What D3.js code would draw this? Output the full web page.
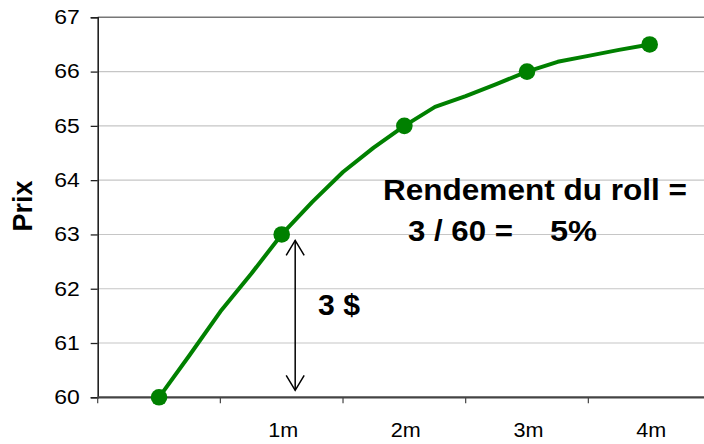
<!DOCTYPE html>
<html>
<head>
<meta charset="utf-8">
<script src="https://cdn.jsdelivr.net/npm/d3@7/dist/d3.min.js"></script>
<style>
  html, body { margin: 0; padding: 0; background: #fff; }
  svg { display: block; }
  text { font-family: "Liberation Sans", Arial, Helvetica, sans-serif; }
</style>
</head>
<body>
<div id="chart"></div>
<script>
// Maturity categories (the first one, spot, has no label)
const categories = ["", "1m", "2m", "3m", "4m"];
// Futures price at each monthly maturity (marked points)
const monthlyPrices = [60, 63, 65, 66, 66.5];
// Weekly prices along the curve (4 steps per month)
const weeklyPrices = [60, 60.78, 61.58, 62.27, 63, 63.6, 64.15, 64.6, 65,
                      65.35, 65.55, 65.77, 66, 66.18, 66.29, 66.4, 66.5];
const yTicks = [60, 61, 62, 63, 64, 65, 66, 67];
const yTitle = "Prix";
const rollLine1 = "Rendement du roll =";
const rollLine2a = "3 / 60 =";
const rollLine2b = "5%";
const spreadLabel = "3 $";

const W = 704, H = 444;
const plot = { left: 97.7, right: 711, top: 17.3, bottom: 397.3 };

const svg = d3.select("#chart").append("svg")
  .attr("width", W).attr("height", H);

const xBand = d3.scaleBand().domain(categories)
  .range([plot.left, plot.right]).paddingInner(0).paddingOuter(0);
// continuous month position -> pixel, month 0 centred in the first band
const xMonth = d3.scaleLinear()
  .domain([-0.5, categories.length - 0.5])
  .range([plot.left, plot.right]);
const y = d3.scaleLinear().domain([60, 67]).range([plot.bottom, plot.top]);

// horizontal gridlines
svg.append("g").selectAll("line")
  .data(yTicks.filter(v => v > 60))
  .join("line")
  .attr("x1", plot.left).attr("x2", plot.right)
  .attr("y1", d => y(d)).attr("y2", d => y(d))
  .attr("stroke", d => d === 67 ? "#777" : "#c6c6c6")
  .attr("stroke-width", d => d === 67 ? 1.6 : 1.1);

// y axis
const yAxis = svg.append("g")
  .attr("transform", `translate(${plot.left},0)`)
  .call(d3.axisLeft(y).tickValues(yTicks).tickSize(7).tickPadding(11)
    .tickFormat(d3.format("d")));
yAxis.select(".domain").attr("stroke", "#222").attr("stroke-width", 1.6);
yAxis.selectAll(".tick line").attr("stroke", "#222").attr("stroke-width", 1.3);
yAxis.selectAll(".tick text")
  .attr("font-size", 20).attr("fill", "#000")
  .attr("font-family", "'Liberation Sans', Arial, sans-serif")
  .attr("textLength", 25.5).attr("lengthAdjust", "spacingAndGlyphs");

// x axis line and tick marks between categories
const xAxis = svg.append("g");
xAxis.append("line")
  .attr("x1", plot.left).attr("x2", plot.right)
  .attr("y1", y(60)).attr("y2", y(60))
  .attr("stroke", "#444").attr("stroke-width", 2.2);
const boundaries = categories.map(c => xBand(c)).concat([xBand(categories[categories.length - 1]) + xBand.bandwidth()]);
xAxis.selectAll("line.tk").data(boundaries).join("line")
  .attr("class", "tk")
  .attr("x1", d => d).attr("x2", d => d)
  .attr("y1", y(60)).attr("y2", y(60) + 6)
  .attr("stroke", "#444").attr("stroke-width", 1.2);
xAxis.selectAll("text").data(categories.filter(c => c !== "")).join("text")
  .attr("x", d => xBand(d) + xBand.bandwidth() / 2 + 1.5)
  .attr("y", 437)
  .attr("text-anchor", "middle")
  .attr("font-size", 20)
  .attr("textLength", 30).attr("lengthAdjust", "spacingAndGlyphs")
  .text(d => d);

// y title
svg.append("text")
  .attr("transform", "translate(32,206) rotate(-90)")
  .attr("text-anchor", "middle")
  .attr("font-size", 27)
  .attr("font-weight", "bold")
  .text(yTitle);

// price curve
const line = d3.line()
  .x((d, i) => xMonth(i / 4))
  .y(d => y(d));
svg.append("path")
  .datum(weeklyPrices)
  .attr("d", line)
  .attr("fill", "none")
  .attr("stroke", "#008000")
  .attr("stroke-width", 4)
  .attr("stroke-linejoin", "round");

svg.append("g").selectAll("circle")
  .data(monthlyPrices)
  .join("circle")
  .attr("cx", (d, i) => xMonth(i))
  .attr("cy", d => y(d))
  .attr("r", 8.3)
  .attr("fill", "#008000");

// double arrow showing the 3 $ gap between spot and 1m
const ax = xMonth(1) + 13.5;
const aTop = y(monthlyPrices[1]) + 6;
const aBot = y(monthlyPrices[0]) - 7;
const arrow = svg.append("g").attr("stroke", "#000").attr("stroke-width", 1.5).attr("fill", "none");
arrow.append("line").attr("x1", ax).attr("x2", ax).attr("y1", aTop).attr("y2", aBot);
arrow.append("path").attr("d", `M${ax - 9},${aTop + 15} L${ax},${aTop} L${ax + 9},${aTop + 15}`);
arrow.append("path").attr("d", `M${ax - 9},${aBot - 15} L${ax},${aBot} L${ax + 9},${aBot - 15}`);

svg.append("text")
  .attr("x", 318).attr("y", 315)
  .attr("font-size", 29).attr("font-weight", "bold")
  .attr("textLength", 42).attr("lengthAdjust", "spacingAndGlyphs")
  .text(spreadLabel);

// roll yield annotation
svg.append("text")
  .attr("x", 383).attr("y", 200)
  .attr("font-size", 29).attr("font-weight", "bold")
  .attr("textLength", 304).attr("lengthAdjust", "spacingAndGlyphs")
  .text(rollLine1);
svg.append("text")
  .attr("x", 408).attr("y", 241)
  .attr("font-size", 29).attr("font-weight", "bold")
  .attr("textLength", 105).attr("lengthAdjust", "spacingAndGlyphs")
  .text(rollLine2a);
svg.append("text")
  .attr("x", 550).attr("y", 241)
  .attr("font-size", 29).attr("font-weight", "bold")
  .attr("textLength", 47).attr("lengthAdjust", "spacingAndGlyphs")
  .text(rollLine2b);
</script>
</body>
</html>
